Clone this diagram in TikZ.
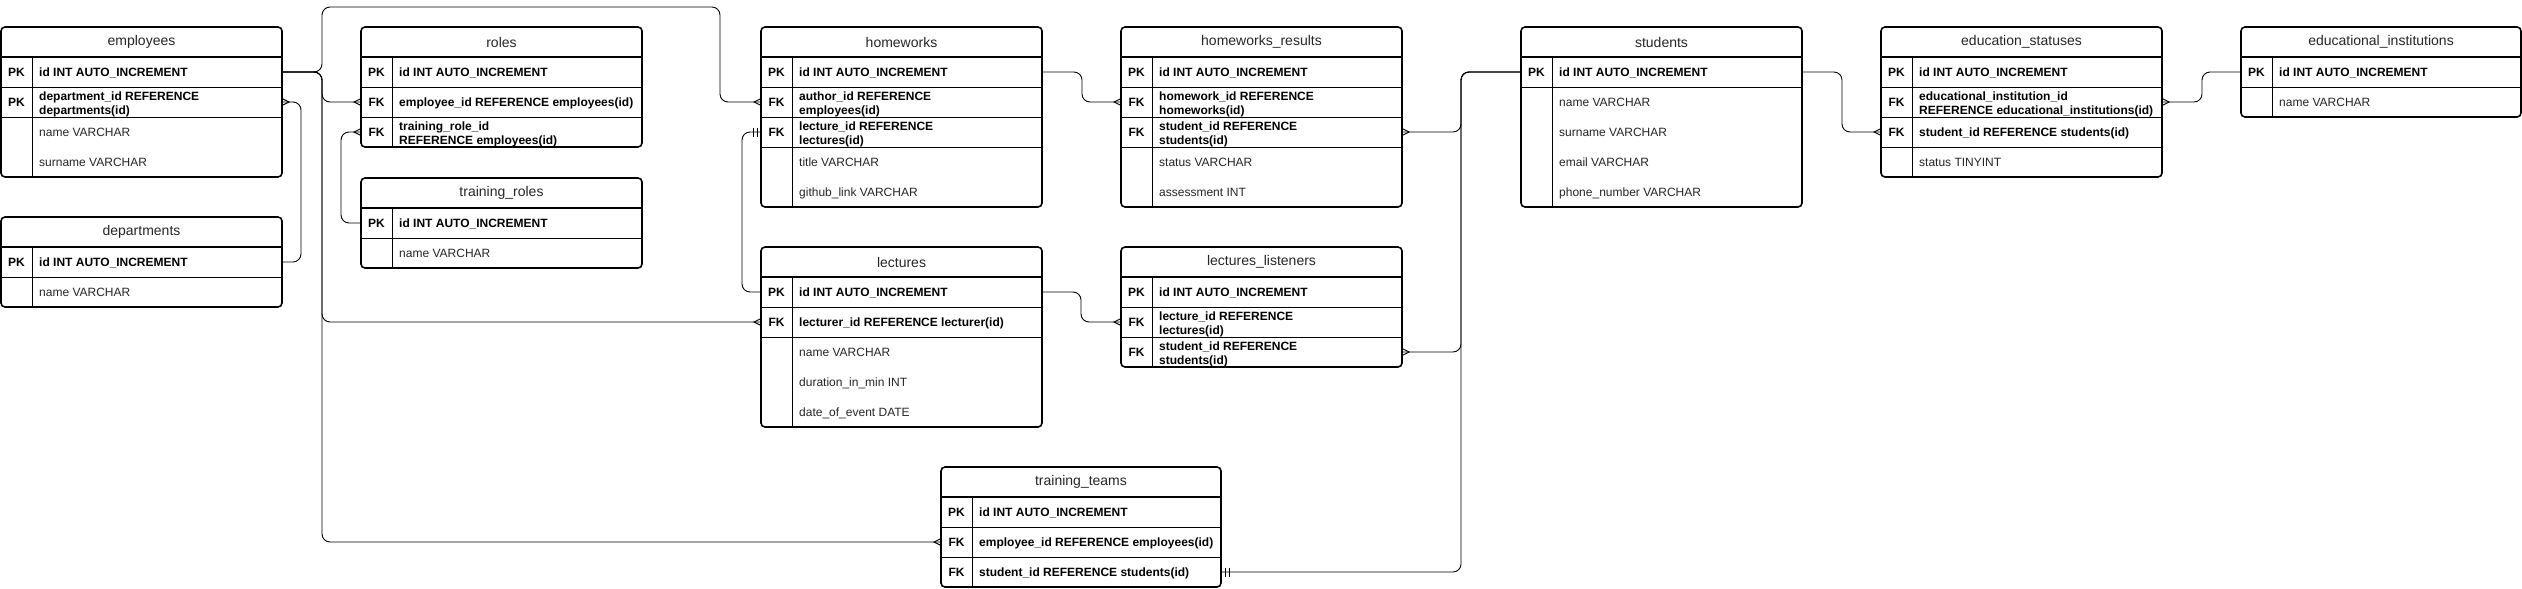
\documentclass[tikz,border=0pt]{standalone}
\usepackage{fontspec}
\setmainfont{Liberation Sans}
\newcommand{\erframe}[5]{%
  \draw[tblframe] (#1,#2) rectangle ++(#3,{30*(#4+1)});
  \draw[hdrline] (#1,{#2+30}) -- ++(#3,0);
  \draw[sepline] ({#1+31},{#2+30}) -- ({#1+31},{#2+30*(#4+1)});
  \foreach \ii in {1,...,#5} \draw[sepline] (#1,{#2+30+30*\ii}) -- ++(#3,0);
}
\newcommand{\erhead}[5]{\node[hdrtxt] (#1) at ({#2+#4/2},{#3+15}) {#5};}
\newcommand{\erkey}[6]{%
  \node[rowbox, minimum width=#4pt, anchor=north west] (#1) at (#2,#3) {};
  \node[keylbl] at ([xshift=15.5pt]#1.west) {#5};
  \node[keyfld] at ([xshift=38pt]#1.west) {#6};}
\newcommand{\erkeyii}[6]{%
  \node[rowbox, minimum width=#4pt, anchor=north west] (#1) at (#2,#3) {};
  \node[keylbl] at ([xshift=15.5pt]#1.west) {#5};
  \node[keyfldii] at ([xshift=38pt,yshift=-2.3pt]#1.west) {#6};}
\newcommand{\erattr}[5]{%
  \node[rowbox, minimum width=#4pt, anchor=north west] (#1) at (#2,#3) {};
  \node[attrfld] at ([xshift=38pt]#1.west) {#5};}
\newcommand{\crowW}[1]{\draw[ermk] ([yshift=3.5pt]#1) -- ([xshift=-7pt]#1) -- ([yshift=-3.5pt]#1);}
\newcommand{\crowE}[1]{\draw[ermk] ([yshift=3.5pt]#1) -- ([xshift=7pt]#1) -- ([yshift=-3.5pt]#1);}
\newcommand{\oneW}[1]{\draw[ermk] ([xshift=-4pt,yshift=4.5pt]#1) -- ([xshift=-4pt,yshift=-4.5pt]#1) ([xshift=-8pt,yshift=4.5pt]#1) -- ([xshift=-8pt,yshift=-4.5pt]#1);}
\newcommand{\oneE}[1]{\draw[ermk] ([xshift=4pt,yshift=4.5pt]#1) -- ([xshift=4pt,yshift=-4.5pt]#1) ([xshift=8pt,yshift=4.5pt]#1) -- ([xshift=8pt,yshift=-4.5pt]#1);}
\begin{document}
\begin{tikzpicture}[x=1pt,y=-1pt,
  rowbox/.style={draw=none,minimum height=30pt,inner sep=0pt,outer sep=0pt},
  keylbl/.style={font=\fontsize{12}{14}\selectfont\bfseries,inner sep=0pt,text height=8.6pt,text depth=0pt},
  keyfld/.style={anchor=west,font=\fontsize{12}{14}\selectfont\bfseries,inner sep=0pt,text height=8.6pt,text depth=0pt},
  keyfldii/.style={anchor=west,align=left,font=\fontsize{12}{14}\selectfont\bfseries,inner sep=0pt},
  attrfld/.style={anchor=west,font=\fontsize{12}{14}\selectfont,inner sep=0pt,text height=8.6pt,text depth=0pt,text=black!85},
  hdrtxt/.style={font=\fontsize{14}{16}\selectfont,inner sep=0pt,text=black!85},
  tblframe/.style={line width=1.6pt,rounded corners=4pt},
  hdrline/.style={line width=1.6pt},
  sepline/.style={line width=0.9pt},
  conn/.style={line width=0.9pt,rounded corners=8pt},
  ermk/.style={line width=0.9pt}]
\path[use as bounding box,fill=white] (0,0) rectangle (2522,589);

% employees
\erframe{1}{27}{281}{4}{2}
\erhead{emp}{1}{27}{281}{employees}
\erkey{emp1}{1}{57}{281}{PK}{id INT AUTO\_INCREMENT}
\erkeyii{emp2}{1}{87}{281}{PK}{department\_id REFERENCE\\departments(id)}
\erattr{emp3}{1}{117}{281}{name VARCHAR}
\erattr{emp4}{1}{147}{281}{surname VARCHAR}

% departments
\erframe{1}{217}{281}{2}{1}
\erhead{dep}{1}{217}{281}{departments}
\erkey{dep1}{1}{247}{281}{PK}{id INT AUTO\_INCREMENT}
\erattr{dep2}{1}{277}{281}{name VARCHAR}

% roles
\erframe{361}{27}{281}{3}{2}
\erhead{rol}{361}{27}{281}{roles}
\erkey{rol1}{361}{57}{281}{PK}{id INT AUTO\_INCREMENT}
\erkey{rol2}{361}{87}{281}{FK}{employee\_id REFERENCE employees(id)}
\erkeyii{rol3}{361}{117}{281}{FK}{training\_role\_id\\REFERENCE employees(id)}

% training_roles
\erframe{361}{178}{281}{2}{1}
\erhead{trr}{361}{178}{281}{training\_roles}
\erkey{trr1}{361}{208}{281}{PK}{id INT AUTO\_INCREMENT}
\erattr{trr2}{361}{238}{281}{name VARCHAR}

% homeworks
\erframe{761}{27}{281}{5}{3}
\erhead{hw}{761}{27}{281}{homeworks}
\erkey{hw1}{761}{57}{281}{PK}{id INT AUTO\_INCREMENT}
\erkeyii{hw2}{761}{87}{281}{FK}{author\_id REFERENCE\\employees(id)}
\erkeyii{hw3}{761}{117}{281}{FK}{lecture\_id REFERENCE\\lectures(id)}
\erattr{hw4}{761}{147}{281}{title VARCHAR}
\erattr{hw5}{761}{177}{281}{github\_link VARCHAR}

% homeworks_results
\erframe{1121}{27}{281}{5}{3}
\erhead{hwr}{1121}{27}{281}{homeworks\_results}
\erkey{hwr1}{1121}{57}{281}{PK}{id INT AUTO\_INCREMENT}
\erkeyii{hwr2}{1121}{87}{281}{FK}{homework\_id REFERENCE\\homeworks(id)}
\erkeyii{hwr3}{1121}{117}{281}{FK}{student\_id REFERENCE\\students(id)}
\erattr{hwr4}{1121}{147}{281}{status VARCHAR}
\erattr{hwr5}{1121}{177}{281}{assessment INT}

% students
\erframe{1521}{27}{281}{5}{1}
\erhead{stu}{1521}{27}{281}{students}
\erkey{stu1}{1521}{57}{281}{PK}{id INT AUTO\_INCREMENT}
\erattr{stu2}{1521}{87}{281}{name VARCHAR}
\erattr{stu3}{1521}{117}{281}{surname VARCHAR}
\erattr{stu4}{1521}{147}{281}{email VARCHAR}
\erattr{stu5}{1521}{177}{281}{phone\_number VARCHAR}

% education_statuses
\erframe{1881}{27}{281}{4}{3}
\erhead{es}{1881}{27}{281}{education\_statuses}
\erkey{es1}{1881}{57}{281}{PK}{id INT AUTO\_INCREMENT}
\erkeyii{es2}{1881}{87}{281}{FK}{educational\_institution\_id\\REFERENCE educational\_institutions(id)}
\erkey{es3}{1881}{117}{281}{FK}{student\_id REFERENCE students(id)}
\erattr{es4}{1881}{147}{281}{status TINYINT}

% educational_institutions
\erframe{2241}{27}{280}{2}{1}
\erhead{ei}{2241}{27}{280}{educational\_institutions}
\erkey{ei1}{2241}{57}{280}{PK}{id INT AUTO\_INCREMENT}
\erattr{ei2}{2241}{87}{280}{name VARCHAR}

% lectures
\erframe{761}{247}{281}{5}{2}
\erhead{lec}{761}{247}{281}{lectures}
\erkey{lec1}{761}{277}{281}{PK}{id INT AUTO\_INCREMENT}
\erkey{lec2}{761}{307}{281}{FK}{lecturer\_id REFERENCE lecturer(id)}
\erattr{lec3}{761}{337}{281}{name VARCHAR}
\erattr{lec4}{761}{367}{281}{duration\_in\_min INT}
\erattr{lec5}{761}{397}{281}{date\_of\_event DATE}

% lectures_listeners
\erframe{1121}{247}{281}{3}{2}
\erhead{ll}{1121}{247}{281}{lectures\_listeners}
\erkey{ll1}{1121}{277}{281}{PK}{id INT AUTO\_INCREMENT}
\erkeyii{ll2}{1121}{307}{281}{FK}{lecture\_id REFERENCE\\lectures(id)}
\erkeyii{ll3}{1121}{337}{281}{FK}{student\_id REFERENCE\\students(id)}

% training_teams
\erframe{941}{467}{280}{3}{2}
\erhead{tt}{941}{467}{280}{training\_teams}
\erkey{tt1}{941}{497}{280}{PK}{id INT AUTO\_INCREMENT}
\erkey{tt2}{941}{527}{280}{FK}{employee\_id REFERENCE employees(id)}
\erkey{tt3}{941}{557}{280}{FK}{student\_id REFERENCE students(id)}

% connectors
\coordinate (tb1) at (322,7);
\coordinate (tb2) at (720,7);
\draw[conn] (emp1.east) -- ++(40,0) |- (rol2.west);
\draw[conn] (emp1.east) -- ++(40,0) |- (lec2.west);
\draw[conn] (emp1.east) -- ++(40,0) |- (tt2.west);
\draw[conn] (emp1.east) -| (tb1) -- (tb2) |- (hw2.west);
\draw[conn] (dep1.east) -- ++(19,0) |- (emp2.east);
\draw[conn] (trr1.west) -- ++(-20,0) |- (rol3.west);
\draw[conn] (hw1.east) -- ++(40,0) |- (hwr2.west);
\draw[conn] (lec1.west) -- ++(-19,0) |- (hw3.west);
\draw[conn] (lec1.east) -- ++(39,0) |- (ll2.west);
\draw[conn] (stu1.west) -- ++(-60,0) |- (hwr3.east);
\draw[conn] (stu1.west) -- ++(-60,0) |- (ll3.east);
\draw[conn] (stu1.west) -- ++(-60,0) |- (tt3.east);
\draw[conn] (stu1.east) -- ++(40,0) |- (es3.west);
\draw[conn] (ei1.west) -- ++(-39,0) |- (es2.east);

% markers
\crowW{rol2.west}
\crowW{lec2.west}
\crowW{tt2.west}
\crowW{hw2.west}
\crowE{emp2.east}
\crowW{rol3.west}
\crowW{hwr2.west}
\oneW{hw3.west}
\crowW{ll2.west}
\crowE{hwr3.east}
\crowE{ll3.east}
\oneE{tt3.east}
\crowW{es3.west}
\crowE{es2.east}
\end{tikzpicture}
\end{document}
